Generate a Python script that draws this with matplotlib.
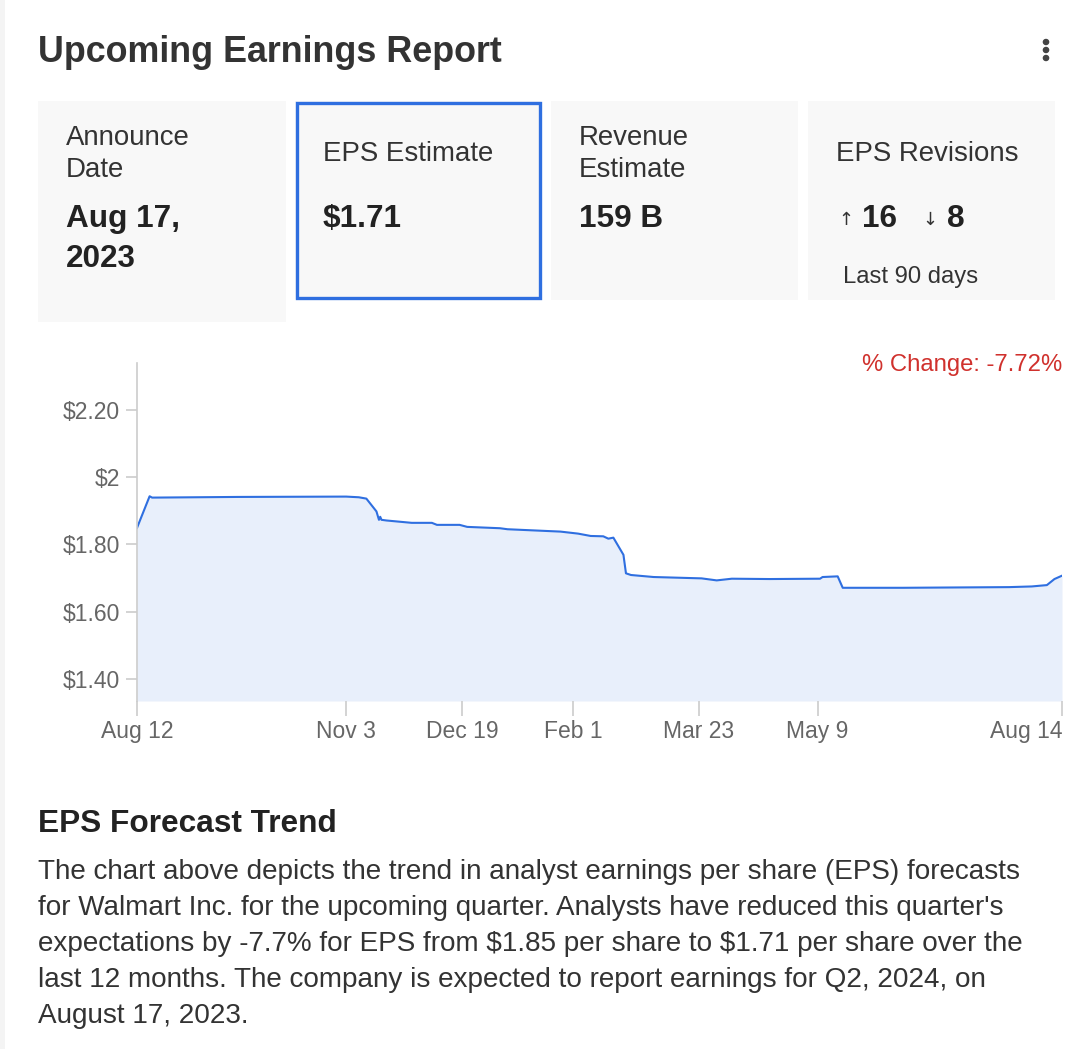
import matplotlib
matplotlib.use("Agg")
import matplotlib.pyplot as plt
from matplotlib.patches import Rectangle
import numpy as np

plt.rcParams['font.family'] = ['Liberation Sans', 'DejaVu Sans']
plt.rcParams['text.parse_math'] = False

W, H = 1084, 1049

# ---- data ----
start_date = "2022-08-12"
day_offset = [0, 5, 6, 40, 83, 88, 91, 95, 96, 96.5, 97, 99, 109, 117, 119, 128, 131,
              144, 147, 168, 175, 180, 185, 187, 189, 193, 194, 196, 205, 224, 230,
              236, 251, 271, 272, 278, 280, 304, 346, 355, 361, 364, 367]
eps_value = [1.849, 1.943, 1.939, 1.941, 1.942, 1.940, 1.936, 1.898, 1.873, 1.882, 1.873,
             1.871, 1.864, 1.864, 1.858, 1.858, 1.852, 1.848, 1.845, 1.838, 1.832,
             1.825, 1.824, 1.817, 1.820, 1.769, 1.714, 1.709, 1.703, 1.699, 1.693,
             1.698, 1.697, 1.698, 1.703, 1.705, 1.671, 1.671, 1.673, 1.675, 1.679,
             1.697, 1.707]
x_tick_days = [0, 83, 129, 173, 223, 270, 367]
x_tick_labels = ["Aug 12", "Nov 3", "Dec 19", "Feb 1", "Mar 23", "May 9", "Aug 14"]
y_ticks = [1.40, 1.60, 1.80, 2.00, 2.20]
y_tick_labels = ["$1.40", "$1.60", "$1.80", "$2", "$2.20"]
pct_change = "-7.72%"

cards = [
    {"x": 38, "w": 248, "h": 221, "label": ["Announce", "Date"], "value": ["Aug 17,", "2023"]},
    {"x": 295, "w": 246, "h": 198, "label": ["EPS Estimate"], "value": ["$1.71"]},
    {"x": 551, "w": 247, "h": 199, "label": ["Revenue", "Estimate"], "value": ["159 B"]},
    {"x": 808, "w": 247, "h": 199, "label": ["EPS Revisions"], "value": None},
]
rev_up, rev_down = "16", "8"

paragraph = [
    "The chart above depicts the trend in analyst earnings per share (EPS) forecasts",
    "for Walmart Inc. for the upcoming quarter. Analysts have reduced this quarter's",
    "expectations by -7.7% for EPS from $1.85 per share to $1.71 per share over the",
    "last 12 months. The company is expected to report earnings for Q2, 2024, on",
    "August 17, 2023.",
]

fig = plt.figure(figsize=(W / 100, H / 100), dpi=100)
fig.patch.set_facecolor("white")

def fx(x):
    return x / W

def fy(y):
    return 1 - y / H

def txt(x, y, s, size, weight="normal", color="#333333", ha="left", **kw):
    fig.text(fx(x), fy(y), s, fontsize=size, fontweight=weight, color=color,
             ha=ha, va="baseline", **kw)

# faint left border
fig.add_artist(Rectangle((0, 0), fx(5), 1, transform=fig.transFigure,
                         facecolor="#f4f4f4", edgecolor="none"))

# title
txt(38, 62, "Upcoming Earnings Report", 25.8, weight="bold", color="#333333")
# three dots
for yy in (42, 50, 58):
    fig.add_artist(plt.Circle((fx(1046), fy(yy)), 2.6 / W, transform=fig.transFigure,
                              color="#444444"))

# cards
top = 101
for i, c in enumerate(cards):
    fig.add_artist(Rectangle((fx(c["x"]), fy(top + c["h"])), c["w"] / W, c["h"] / H,
                             transform=fig.transFigure, facecolor="#f8f8f8",
                             edgecolor="none"))
    if i == 1:
        fig.add_artist(Rectangle((fx(c["x"] + 1.5), fy(top + c["h"] - 1.5)),
                                 (c["w"] - 3) / W, (c["h"] - 3) / H,
                                 transform=fig.transFigure, facecolor="none",
                                 edgecolor="#2f6fe0", linewidth=2.4))
    tx = c["x"] + 28
    if len(c["label"]) == 2:
        txt(tx, 145, c["label"][0], 19.9)
        txt(tx, 177, c["label"][1], 19.9)
    else:
        txt(tx, 161, c["label"][0], 19.9)
    if c["value"]:
        txt(tx, 227, c["value"][0], 22.7, weight="bold", color="#222222")
        if len(c["value"]) > 1:
            txt(tx, 267, c["value"][1], 22.7, weight="bold", color="#222222")

# revisions
txt(838, 225, "\u2191", 13, color="#333333", family=["DejaVu Sans"])
txt(862, 227, rev_up, 22.7, weight="bold", color="#222222")
txt(922, 225, "\u2193", 13, color="#333333", family=["DejaVu Sans"])
txt(947, 227, rev_down, 22.7, weight="bold", color="#222222")
txt(843, 283, "Last 90 days", 17.2)

# chart
ax_l, ax_r, ax_t, ax_b = 137, 1062, 363, 701
ax = fig.add_axes([fx(ax_l), fy(ax_b), (ax_r - ax_l) / W, (ax_b - ax_t) / H])
ax.set_facecolor("white")
xs = np.array(day_offset, dtype=float)
ys = np.array(eps_value)
ymin, ymax = 1.3346, 2.339
ax.fill_between(xs, ys, ymin, color="#e8effb", linewidth=0)
ax.plot(xs, ys, color="#2f6fe0", linewidth=1.5, solid_joinstyle="round")
ax.set_xlim(0, 367)
ax.set_ylim(ymin, ymax)
ax.set_yticks(y_ticks)
ax.set_yticklabels(y_tick_labels)
ax.set_xticks(x_tick_days)
ax.set_xticklabels(x_tick_labels)
for s in ("top", "right", "bottom"):
    ax.spines[s].set_visible(False)
ax.spines["left"].set_color("#cccccc")
ax.spines["left"].set_linewidth(1.2)
ax.tick_params(axis="y", length=8, width=1.2, color="#cccccc", labelsize=16.5,
               labelcolor="#666666", pad=4)
ax.tick_params(axis="x", length=11, width=1.2, color="#cccccc", labelsize=16.5,
               labelcolor="#666666", pad=3)
ax.get_xticklabels()[-1].set_horizontalalignment("right")

txt(1062, 371, "% Change: " + pct_change, 17.2, color="#d0312d", ha="right")

# bottom text
txt(38, 832, "EPS Forecast Trend", 22.8, weight="bold", color="#222222")
for i, line in enumerate(paragraph):
    txt(38, 879 + 36 * i, line, 20.1, color="#333333")

fig.savefig("out.png", dpi=100, facecolor="white")
